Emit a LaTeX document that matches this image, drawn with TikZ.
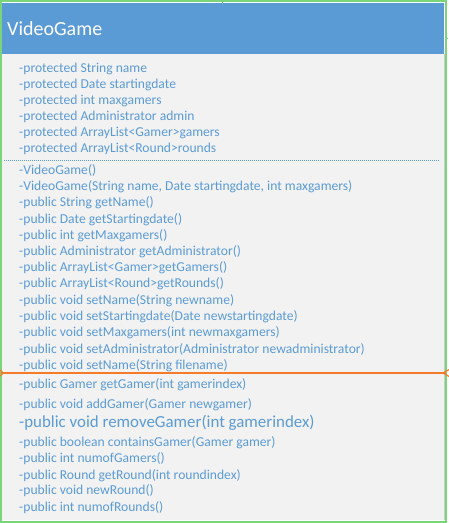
\documentclass[tikz,border=0pt]{standalone}
\usepackage{fontspec}
\setmainfont{Carlito}
\usetikzlibrary{arrows.meta,calc}
\definecolor{hdrblue}{HTML}{5B9BD5}
\definecolor{txtblue}{HTML}{5B9BD5}
\definecolor{bodygray}{HTML}{F2F2F2}
\definecolor{framegreen}{HTML}{7AD47A}
\definecolor{linkorange}{HTML}{F47B2A}
\begin{document}
\begin{tikzpicture}[x=1pt,y=-1pt,
  member/.style={anchor=mid west,inner sep=0pt,text=txtblue,font=\fontsize{13.6}{16}\selectfont},
  bigmember/.style={member,font=\fontsize{16.9}{20}\selectfont},
  title/.style={anchor=mid west,inner sep=0pt,text=white,font=\fontsize{20}{24}\selectfont}]
\useasboundingbox (0,0) rectangle (448,523);
% body and header
\fill[bodygray] (1,54) rectangle (444,520);
\draw[gray!40,line width=0.8pt] (444,54) -- (444,520);
\fill[hdrblue] (1,3) rectangle (444,54);
% outer frame
\draw[framegreen,line width=1.6pt] (0.8,1.2) rectangle (446.2,521.8);
\draw[framegreen,line width=1pt] (222,0) -- (222,4);
\draw[framegreen,line width=1pt] (446,38) -- (448,38);
% title
\node[title] (title) at (7,33) {VideoGame};
% attributes
\node[member] (a1) at (19,70) {-protected String name};
\node[member] (a2) at (19,86) {-protected Date startingdate};
\node[member] (a3) at (19,102) {-protected int maxgamers};
\node[member] (a4) at (19,118.5) {-protected Administrator admin};
\node[member] (a5) at (19,134.5) {-protected ArrayList<Gamer>gamers};
\node[member] (a6) at (19,150.5) {-protected ArrayList<Round>rounds};
% dotted separator
\coordinate (s1) at (4,160);
\coordinate (s2) at (439,160);
\draw[txtblue,line width=0.7pt,dash pattern=on 1pt off 1pt] (s1) -- (s2);
% methods
\node[member] (m1) at (19,172) {-VideoGame()};
\node[member] (m2) at (19,188) {-VideoGame(String name, Date startingdate, int maxgamers)};
\node[member] (m3) at (19,204.5) {-public String getName()};
\node[member] (m4) at (19,221) {-public Date getStartingdate()};
\node[member] (m5) at (19,237) {-public int getMaxgamers()};
\node[member] (m6) at (19,253) {-public Administrator getAdministrator()};
\node[member] (m7) at (19,269.5) {-public ArrayList<Gamer>getGamers()};
\node[member] (m8) at (19,285.5) {-public ArrayList<Round>getRounds()};
\node[member] (m9) at (19,302) {-public void setName(String newname)};
\node[member] (m10) at (19,318.5) {-public void setStartingdate(Date newstartingdate)};
\node[member] (m11) at (19,334.5) {-public void setMaxgamers(int newmaxgamers)};
\node[member] (m12) at (19,351) {-public void setAdministrator(Administrator newadministrator)};
\node[member] (m13) at (19,367) {-public void setName(String filename)};
% orange separator
\coordinate (o1) at (1,373);
\coordinate (o2) at (446,373);
\draw[linkorange,line width=1.8pt] (o1) -- (o2);
\draw[linkorange,line width=1.2pt] ($(o2)+(4,-4)$) -- ($(o2)+(-3,0)$) -- ($(o2)+(4,4)$);
\draw[linkorange,line width=1.2pt] ($(o1)+(-1,-3)$) -- ($(o1)+(2.5,0)$) -- ($(o1)+(-1,3)$);
% more methods
\node[member] (n1) at (19,386.5) {-public Gamer getGamer(int gamerindex)};
\node[member] (n2) at (19,406.5) {-public void addGamer(Gamer newgamer)};
\node[bigmember] (n3) at (19,425.5) {-public void removeGamer(int gamerindex)};
\node[member] (n4) at (19,444) {-public boolean containsGamer(Gamer gamer)};
\node[member] (n5) at (19,460.5) {-public int numofGamers()};
\node[member] (n6) at (19,477) {-public Round getRound(int roundindex)};
\node[member] (n7) at (19,492.5) {-public void newRound()};
\node[member] (n8) at (19,509) {-public int numofRounds()};
\end{tikzpicture}
\end{document}
